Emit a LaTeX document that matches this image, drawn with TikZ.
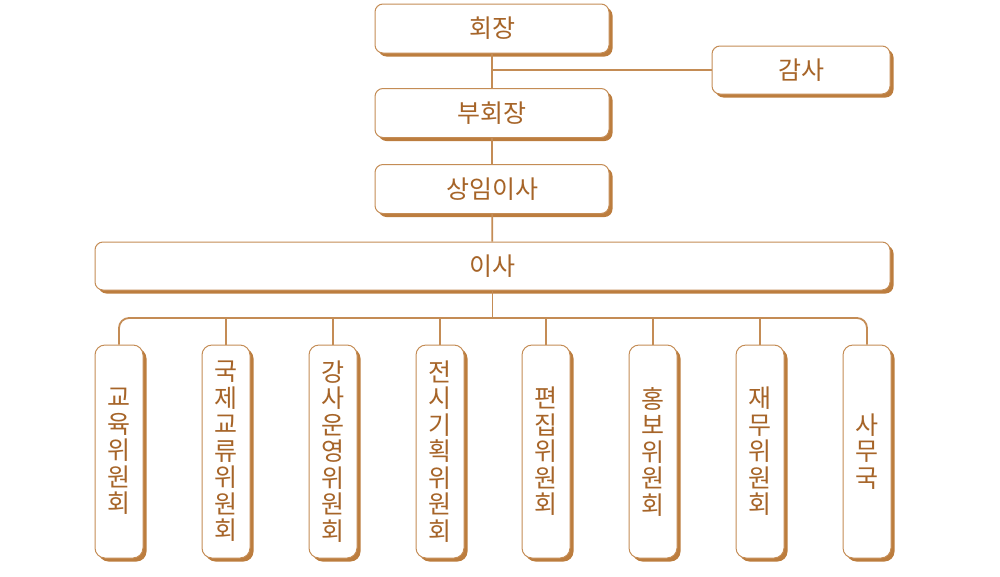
\documentclass[tikz,border=0pt]{standalone}
\usepackage{fontspec}
\setmainfont{Noto Sans CJK KR}
\usetikzlibrary{shadows}
\usetikzlibrary{calc}
\definecolor{orgtext}{RGB}{166,100,40}
\definecolor{orgline}{RGB}{196,140,85}
\definecolor{orgshade}{RGB}{188,125,62}
\tikzstyle{orgbox}=[rectangle,rounded corners=8pt,draw=orgline,line width=1pt,fill=white,text=orgtext,
  drop shadow={shadow xshift=3.5pt,shadow yshift=-3.5pt,fill=orgshade,opacity=1},
  font=\fontsize{25}{26.5}\selectfont,inner sep=0pt]
\tikzstyle{topbox}=[orgbox,minimum width=234pt,minimum height=49pt]
\tikzstyle{colbox}=[orgbox,rounded corners=10pt,minimum width=48pt,minimum height=213pt,align=center]
\tikzstyle{link} = [draw=orgline,line width=1.8pt]

\begin{document}
\begin{tikzpicture}[x=1pt,y=-1pt]
    \useasboundingbox (0,0) rectangle (1000,576);
    % upper chain
    \node[topbox] (chair) at (492,28.5) {회장};
    \node[orgbox,minimum width=178pt,minimum height=48pt] (audit) at (801,70) {감사};
    \node[topbox] (vice) at (492,113) {부회장};
    \node[topbox] (standing) at (492,189) {상임이사};
    \node[orgbox,minimum width=795pt,minimum height=48pt] (board) at (492.5,266) {이사};
    \coordinate (bus) at (492.5,318);

    % committees
    \foreach \pos/\name/\label in {{119/c1/교\\육\\위\\원\\회}, {226/c2/국\\제\\교\\류\\위\\원\\회},
    {333/c3/강\\사\\운\\영\\위\\원\\회}, {440/c4/전\\시\\기\\획\\위\\원\\회},
    {546/c5/편\\집\\위\\원\\회}, {653/c6/홍\\보\\위\\원\\회},
    {760/c7/재\\무\\위\\원\\회}, {867/c8/사\\무\\국}}
        \node[colbox] (\name) at (\pos,451.5) {\label};

    % Connect boxes
    \foreach \source/\dest in {chair/vice, vice/standing, standing/board}
        \path[link] (\source) -- (\dest);
    \path[link] (audit.west) -- (audit.west -| chair.south);
    \path[link] (board.south) -- (bus);
    \path[link,rounded corners=10pt] (c1.north) |- (bus) -| (c8.north);
    \foreach \name in {c2,c3,c4,c5,c6,c7}
        \path[link] (\name.north) -- (\name.north |- bus);
\end{tikzpicture}
\end{document}
